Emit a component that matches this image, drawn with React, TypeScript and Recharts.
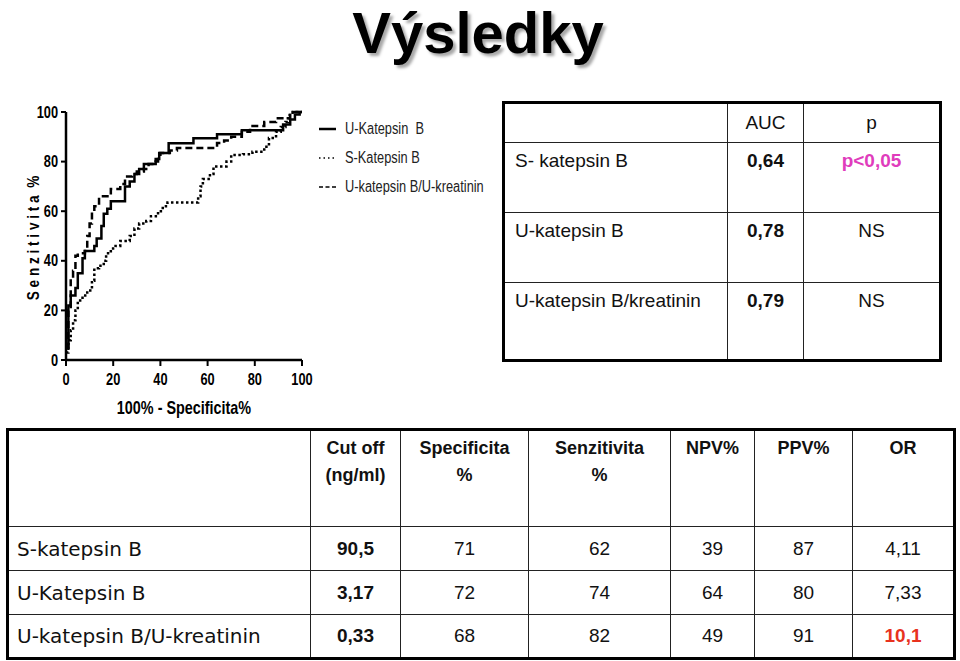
import { LineChart, Line, XAxis, YAxis, Legend } from "recharts";

// ROC curves: x = 100% - specificita, y = senzitivita
const axisTicks = [0, 20, 40, 60, 80, 100];

const uKatepsinB = [
  { x: 0, y: 5 }, { x: 1, y: 22 }, { x: 2, y: 26 }, { x: 4, y: 29 }, { x: 5, y: 35 },
  { x: 7, y: 41 }, { x: 8, y: 44 }, { x: 12, y: 46 }, { x: 13, y: 49 }, { x: 15, y: 54 },
  { x: 16, y: 59 }, { x: 17.5, y: 61 }, { x: 19, y: 64 }, { x: 25, y: 70 }, { x: 27, y: 72 },
  { x: 29, y: 75 }, { x: 31, y: 77 }, { x: 33, y: 79 }, { x: 38, y: 81 }, { x: 39.5, y: 83.5 },
  { x: 43.5, y: 87.4 }, { x: 54, y: 89.4 }, { x: 64, y: 91 }, { x: 74.5, y: 92.6 },
  { x: 92, y: 95 }, { x: 95, y: 97 }, { x: 97, y: 99 }, { x: 99, y: 100 }, { x: 100, y: 100 },
];

const sKatepsinB = [
  { x: 0, y: 3 }, { x: 1, y: 8 }, { x: 2, y: 12 }, { x: 3, y: 16 }, { x: 4, y: 20 },
  { x: 5, y: 24 }, { x: 7, y: 26 }, { x: 9, y: 28 }, { x: 11, y: 32 }, { x: 12, y: 37 },
  { x: 14, y: 38 }, { x: 16, y: 40 }, { x: 17, y: 43 }, { x: 19, y: 45 }, { x: 21, y: 46 },
  { x: 23, y: 48 }, { x: 27, y: 50 }, { x: 29, y: 53 }, { x: 31, y: 55 }, { x: 34, y: 56 },
  { x: 36, y: 58 }, { x: 39, y: 60 }, { x: 41, y: 62 }, { x: 43, y: 63.5 }, { x: 56, y: 66 },
  { x: 57, y: 70 }, { x: 58, y: 73 }, { x: 61, y: 75 }, { x: 62.5, y: 78 }, { x: 68, y: 80 },
  { x: 70, y: 82.7 }, { x: 75, y: 83 }, { x: 79, y: 84 }, { x: 84, y: 86 }, { x: 86, y: 89.5 },
  { x: 89, y: 92 }, { x: 91, y: 94 }, { x: 93, y: 96 }, { x: 94, y: 98.8 }, { x: 96, y: 100 },
  { x: 100, y: 100 },
];

const uKatepsinKreatinin = [
  { x: 0, y: 5 }, { x: 1, y: 20 }, { x: 2, y: 33 }, { x: 3, y: 36 }, { x: 4, y: 42 },
  { x: 5, y: 43 }, { x: 8, y: 44 }, { x: 9, y: 50 }, { x: 10, y: 55 }, { x: 11, y: 60 },
  { x: 12, y: 62 }, { x: 14, y: 66 }, { x: 19, y: 69 }, { x: 23, y: 71 }, { x: 25, y: 74 },
  { x: 28, y: 75 }, { x: 30, y: 76 }, { x: 33, y: 77 }, { x: 35, y: 79 }, { x: 38, y: 80 },
  { x: 39, y: 82 }, { x: 40, y: 83.5 }, { x: 44, y: 84.5 }, { x: 47, y: 85.5 }, { x: 64, y: 87.5 },
  { x: 67, y: 88.5 }, { x: 70, y: 90 }, { x: 74.5, y: 92 }, { x: 78, y: 94.4 }, { x: 84, y: 96 },
  { x: 89, y: 97.5 }, { x: 95, y: 100 }, { x: 100, y: 100 },
];

const seriesNames = ["U-Katepsin  B", "S-Katepsin B", "U-katepsin B/U-kreatinin"];

// AUC table
const aucMarkers = ["S- katepsin B", "U-katepsin B", "U-katepsin B/kreatinin"];
const aucValues = ["0,64", "0,78", "0,79"];
const pValues = ["p<0,05", "NS", "NS"];

// cut-off table
const markers = ["S-katepsin B", "U-Katepsin B", "U-katepsin B/U-kreatinin"];
const cutOff = ["90,5", "3,17", "0,33"];
const specificita = ["71", "72", "68"];
const senzitivita = ["62", "74", "82"];
const npv = ["39", "64", "49"];
const ppv = ["87", "80", "91"];
const oddsRatio = ["4,11", "7,33", "10,1"];

const arial = "'Liberation Sans', Arial, sans-serif";
// no narrow font installed: squeeze Liberation Sans like Arial Narrow
const squeeze = 0.8;

const series = [
  { data: uKatepsinB, name: seriesNames[0], dash: undefined, legendDash: undefined },
  { data: sKatepsinB, name: seriesNames[1], dash: "2.5 2.5", legendDash: "1.5 3" },
  { data: uKatepsinKreatinin, name: seriesNames[2], dash: "7 4", legendDash: "4 2.5" },
];

const XTick = (props: any) => {
  const { x, y, payload } = props;
  return (
    <g transform={`translate(${x},${y}) scale(${squeeze},1)`}>
      <text textAnchor="middle" dy="0.71em" fill="#000" fontSize={16} fontWeight={700} fontFamily={arial}>
        {payload.value}
      </text>
    </g>
  );
};

const YTick = (props: any) => {
  const { x, y, payload } = props;
  return (
    <g transform={`translate(${x},${y}) scale(${squeeze},1)`}>
      <text textAnchor="end" dy="0.355em" fill="#000" fontSize={16} fontWeight={700} fontFamily={arial}>
        {payload.value}
      </text>
    </g>
  );
};

const YLabel = (props: any) => {
  const { viewBox } = props;
  const x = viewBox.x + 27;
  const y = viewBox.y + viewBox.height / 2 + 2;
  return (
    <g transform={`translate(${x},${y}) rotate(-90) scale(${squeeze},1)`}>
      <text textAnchor="middle" dy="0.355em" fontFamily={arial} fontWeight={700} fontSize={17} fill="#000" style={{ whiteSpace: "pre" }}>
        S e n z i t i v i t a  %
      </text>
    </g>
  );
};

const XLabel = (props: any) => {
  const { viewBox } = props;
  const x = viewBox.x + viewBox.width / 2;
  const y = viewBox.y + 54;
  return (
    <g transform={`translate(${x},${y}) scale(${squeeze},1)`}>
      <text textAnchor="middle" fontFamily={arial} fontWeight={700} fontSize={18} fill="#000">
        100% - Specificita%
      </text>
    </g>
  );
};

const LegendBox = () => (
  <div style={{ fontFamily: arial, fontSize: 16, color: "#222" }}>
    {series.map((s) => (
      <div key={s.name} style={{ display: "flex", alignItems: "center", height: 29, whiteSpace: "nowrap" }}>
        <svg width={20} height={10} style={{ marginRight: 7, flexShrink: 0 }}>
          <line x1={1} y1={5} x2={18} y2={5} stroke="#000" strokeWidth={s.dash ? 1.6 : 2.5} strokeDasharray={s.legendDash} />
        </svg>
        <span style={{ whiteSpace: "pre", display: "inline-block", transform: `scaleX(${squeeze})`, transformOrigin: "left center" }}>{s.name}</span>
      </div>
    ))}
  </div>
);

const thin = "1.5px solid #222";

const App = () => {
  return (
    <div style={{ position: "absolute", left: 0, top: 0, width: 960, height: 661, background: "#fff", overflow: "hidden" }}>
      <div
        style={{
          position: "absolute", left: 0, top: 0, width: 956, textAlign: "center",
          fontFamily: arial, fontWeight: 700, fontSize: 58, lineHeight: "65px",
          color: "#000", textShadow: "3px 3px 3px #a8a8a8",
        }}
      >
        Výsledky
      </div>

      <div style={{ position: "absolute", left: 0, top: 90 }}>
        <LineChart width={500} height={340} margin={{ top: 22, right: 198, bottom: 10, left: 6 }}>
          <XAxis
            type="number"
            dataKey="x"
            domain={[0, 100]}
            ticks={axisTicks}
            height={60}
            tick={<XTick />}
            tickSize={6}
            tickMargin={8}
            axisLine={{ stroke: "#000", strokeWidth: 2.5 }}
            tickLine={{ stroke: "#000", strokeWidth: 2 }}
            label={<XLabel />}
          />
          <YAxis
            type="number"
            dataKey="y"
            domain={[0, 100]}
            ticks={axisTicks}
            width={60}
            tick={<YTick />}
            tickSize={5}
            tickMargin={3}
            axisLine={{ stroke: "#000", strokeWidth: 2.5 }}
            tickLine={{ stroke: "#000", strokeWidth: 2 }}
            label={<YLabel />}
          />
          <Legend
            layout="vertical"
            align="center"
            verticalAlign="middle"
            content={<LegendBox />}
            wrapperStyle={{ left: 318, top: 24, width: 180 }}
          />
          {series.map((s) => (
            <Line
              key={s.name}
              data={s.data}
              dataKey="y"
              name={s.name}
              type="stepAfter"
              stroke="#000"
              strokeWidth={2.5}
              strokeDasharray={s.dash}
              dot={false}
              isAnimationActive={false}
            />
          ))}
        </LineChart>
      </div>

      <table
        style={{
          position: "absolute", left: 502, top: 101, width: 440, height: 259,
          borderCollapse: "collapse", border: "3px solid #000", fontFamily: arial, fontSize: 19, color: "#111",
        }}
      >
        <tbody>
          <tr style={{ height: 40 }}>
            <td style={{ border: thin, width: 220 }}></td>
            <td style={{ border: thin, width: 73, textAlign: "center" }}>AUC</td>
            <td style={{ border: thin, textAlign: "center" }}>p</td>
          </tr>
          {aucMarkers.map((m, i) => (
            <tr key={m} style={{ height: i === 2 ? 78 : 70 }}>
              <td style={{ border: thin, verticalAlign: "top", paddingLeft: 10, paddingTop: 7 }}>{m}</td>
              <td style={{ border: thin, verticalAlign: "top", textAlign: "center", fontWeight: 700, paddingTop: 7 }}>{aucValues[i]}</td>
              <td
                style={{
                  border: thin, verticalAlign: "top", textAlign: "center", paddingTop: 7,
                  fontWeight: i === 0 ? 700 : 400, color: i === 0 ? "#e03cbc" : "#111",
                }}
              >
                {pValues[i]}
              </td>
            </tr>
          ))}
        </tbody>
      </table>

      <table
        style={{
          position: "absolute", left: 6, top: 428, width: 950, height: 230,
          borderCollapse: "collapse", border: "3px solid #000", fontFamily: arial, fontSize: 19, color: "#111",
        }}
      >
        <tbody>
          <tr style={{ height: 97, fontWeight: 700, fontSize: 18, lineHeight: "27px" }}>
            <td style={{ border: thin, width: 299 }}></td>
            <td style={{ border: thin, width: 87, textAlign: "center", verticalAlign: "top", paddingTop: 4 }}>Cut off<br />(ng/ml)</td>
            <td style={{ border: thin, width: 125, textAlign: "center", verticalAlign: "top", paddingTop: 4 }}>Specificita<br />%</td>
            <td style={{ border: thin, width: 139, textAlign: "center", verticalAlign: "top", paddingTop: 4 }}>Senzitivita<br />%</td>
            <td style={{ border: thin, width: 81, textAlign: "center", verticalAlign: "top", paddingTop: 4 }}>NPV%</td>
            <td style={{ border: thin, width: 95, textAlign: "center", verticalAlign: "top", paddingTop: 4 }}>PPV%</td>
            <td style={{ border: thin, textAlign: "center", verticalAlign: "top", paddingTop: 4 }}>OR</td>
          </tr>
          {markers.map((m, i) => (
            <tr key={m} style={{ height: 44 }}>
              <td style={{ border: thin, paddingLeft: 8, fontFamily: "'DejaVu Sans', sans-serif", fontSize: 20 }}>{m}</td>
              <td style={{ border: thin, textAlign: "center", fontWeight: 700 }}>{cutOff[i]}</td>
              <td style={{ border: thin, textAlign: "center" }}>{specificita[i]}</td>
              <td style={{ border: thin, textAlign: "center" }}>{senzitivita[i]}</td>
              <td style={{ border: thin, textAlign: "center" }}>{npv[i]}</td>
              <td style={{ border: thin, textAlign: "center" }}>{ppv[i]}</td>
              <td
                style={{
                  border: thin, textAlign: "center",
                  fontWeight: i === 2 ? 700 : 400, color: i === 2 ? "#e8321e" : "#111",
                }}
              >
                {oddsRatio[i]}
              </td>
            </tr>
          ))}
        </tbody>
      </table>
    </div>
  );
};

export default App;
